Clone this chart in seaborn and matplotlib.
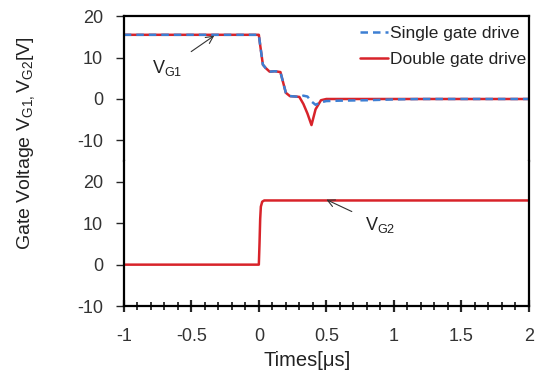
import matplotlib
matplotlib.use("Agg")
import matplotlib.pyplot as plt
from matplotlib.ticker import MultipleLocator
import seaborn as sns
import pandas as pd

# gate voltage waveforms
t_g1 = [-1.0, 0.0, 0.01, 0.03, 0.05, 0.08, 0.12, 0.16, 0.18, 0.20, 0.23, 0.27,
        0.30, 0.33, 0.36, 0.39, 0.42, 0.46, 0.50, 0.60, 0.80, 1.00, 1.20, 2.0]
vg1_single = [15.5, 15.5, 13.0, 8.3, 7.5, 6.6, 6.7, 6.5, 4.0, 1.5, 0.7, 0.6,
              0.5, 0.8, 0.6, -0.6, -1.4, -0.8, -0.5, -0.4, -0.3, -0.1, 0.0, 0.0]
vg1_double = [15.5, 15.5, 13.0, 8.3, 7.5, 6.6, 6.7, 6.5, 4.0, 1.5, 0.7, 0.6,
              0.5, -1.2, -3.5, -6.3, -2.5, -0.3, 0.0, 0.0, 0.0, 0.0, 0.0, 0.0]

t_g2 = [-1.0, 0.0, 0.005, 0.01, 0.015, 0.025, 0.04, 2.0]
vg2_double = [0.0, 0.0, 5.0, 11.0, 14.0, 15.2, 15.5, 15.5]

y_ticks = [-10, 0, 10, 20]
x_ticks = [-1, -0.5, 0, 0.5, 1, 1.5, 2]

sns.set_style("white")
plt.rcParams["font.family"] = ["Liberation Sans", "DejaVu Sans"]
plt.rcParams["mathtext.fontset"] = "custom"
plt.rcParams["mathtext.rm"] = "Liberation Sans"
plt.rcParams["mathtext.it"] = "Liberation Sans"
plt.rcParams["axes.unicode_minus"] = False

blue = "#3d7fd3"
red = "#d8232a"

fig = plt.figure(figsize=(5.43, 3.76), dpi=100)
ax1 = fig.add_axes([0.228, 0.5715, 0.746, 0.3855])
ax2 = fig.add_axes([0.228, 0.186, 0.746, 0.3855], sharex=ax1)

g1 = pd.DataFrame({"t": t_g1, "single": vg1_single, "double": vg1_double})
g2 = pd.DataFrame({"t": t_g2, "double": vg2_double})

sns.lineplot(data=g1, x="t", y="double", ax=ax1, color=red, lw=1.8,
             label="Double gate drive")
sns.lineplot(data=g1, x="t", y="single", ax=ax1, color=blue, lw=1.8,
             linestyle=(0, (3, 2)), label="Single gate drive")
sns.lineplot(data=g2, x="t", y="double", ax=ax2, color=red, lw=1.8,
             legend=False)

ax1.set_ylim(-15, 20)
ax2.set_ylim(-10, 25)
ax1.set_xlim(-1, 2)

for ax in (ax1, ax2):
    ax.set_yticks(y_ticks)
    ax.set_xlabel("")
    ax.set_ylabel("")
    for s in ax.spines.values():
        s.set_linewidth(1.6)
        s.set_color("black")
    ax.tick_params(axis="y", direction="out", length=6, width=1,
                   labelsize=13, left=True, pad=9, labelcolor="#333333")
ax1.spines["bottom"].set_visible(False)
ax2.spines["top"].set_visible(False)
ax1.tick_params(axis="x", bottom=False, labelbottom=False)

ax2.set_xticks(x_ticks)
ax2.set_xticklabels(["-1", "-0.5", "0", "0.5", "1", "1.5", "2"])
ax2.xaxis.set_minor_locator(MultipleLocator(0.1))
ax2.tick_params(axis="x", which="major", direction="inout", length=9,
                width=1.6, labelsize=13, bottom=True, pad=11,
                labelcolor="#333333")
ax2.tick_params(axis="x", which="minor", direction="inout", length=6,
                width=1.3, bottom=True)

handles, labels = ax1.get_legend_handles_labels()
ax1.legend(handles[::-1], labels[::-1], loc="upper right", frameon=False,
           fontsize=12.5, handlelength=1.6, handletextpad=0.15,
           borderaxespad=0.0, borderpad=0.55, labelspacing=0.65,
           bbox_to_anchor=(1.018, 1.0), labelcolor="#222222")

ax1.annotate(r"V$_{\mathrm{G1}}$", xy=(-0.33, 15.3), xytext=(-0.68, 7.4),
             fontsize=13, ha="center", va="center", color="#222222",
             arrowprops=dict(arrowstyle="->", color="#333333", lw=0.8,
                             shrinkA=5, shrinkB=0))
ax2.annotate(r"V$_{\mathrm{G2}}$", xy=(0.5, 15.7), xytext=(0.9, 9.6),
             fontsize=13, ha="center", va="center", color="#222222",
             arrowprops=dict(arrowstyle="->", color="#333333", lw=0.8,
                             shrinkA=8, shrinkB=0))

fig.text(0.565, 0.04, "Times[\u03bcs]", ha="center", va="center",
         fontsize=14.5, color="#222222")
fig.text(0.048, 0.62, r"Gate Voltage V$_{\mathrm{G1,}}$V$_{\mathrm{G2}}$[V]",
         rotation=90, ha="center", va="center", fontsize=14,
         color="#222222")

fig.savefig("out.png", dpi=100)
